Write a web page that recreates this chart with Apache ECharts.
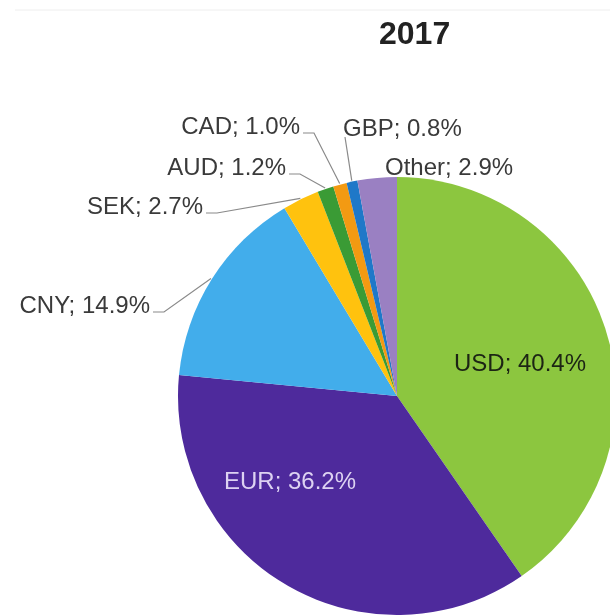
<!DOCTYPE html>
<html>
<head>
<meta charset="utf-8">
<style>
  html, body { margin: 0; padding: 0; background: #fff; }
  #chart { width: 610px; height: 615px; }
</style>
<script src="https://cdn.jsdelivr.net/npm/echarts@6/dist/echarts.min.js"></script>
</head>
<body>
<div id="chart"></div>
<script>
// currency share, 2017
var currencies = ['USD', 'EUR', 'CNY', 'SEK', 'AUD', 'CAD', 'GBP', 'Other'];
var shares = [40.4, 36.2, 14.9, 2.7, 1.2, 1.0, 0.8, 2.9];
var colors = ['#8cc63f', '#4e2a9c', '#42adeb', '#ffc20e', '#3a9b35', '#f39a12', '#1f78c8', '#9a80c2'];

// where each label sits (x, y, align); leader for the outside ones
var labelSpots = [
  [520, 364, 'center'],
  [290, 482, 'center'],
  [150, 306, 'right'],
  [203, 207, 'right'],
  [286, 168, 'right'],
  [300, 127, 'right'],
  [343, 129, 'left'],
  [385, 168, 'left']
];
var hasLeader = [false, false, true, true, true, true, true, false];

var cx = 397, cy = 396, R = 219;
var total = shares.reduce(function (a, b) { return a + b; }, 0);

// point on the rim at the middle of slice i
function rimPoint(i) {
  var before = 0;
  for (var k = 0; k < i; k++) before += shares[k];
  var ang = (before + shares[i] / 2) / total * Math.PI * 2;
  return [cx + (R + 1) * Math.sin(ang), cy - (R + 1) * Math.cos(ang)];
}

var chart = echarts.init(document.getElementById('chart'));

var option = {
  animation: false,
  title: {
    text: '2017',
    left: 374,
    top: 14,
    textStyle: {
      fontFamily: 'Liberation Sans',
      fontSize: 32,
      fontWeight: 'bold',
      color: '#222'
    }
  },
  graphic: [{
    type: 'line',
    shape: { x1: 15, y1: 10, x2: 610, y2: 10 },
    style: { stroke: '#eeeeee', lineWidth: 1 },
    silent: true
  }],
  series: [{
    type: 'pie',
    center: [cx, cy],
    radius: R,
    startAngle: 90,
    clockwise: true,
    avoidLabelOverlap: false,
    itemStyle: { borderWidth: 0 },
    label: {
      show: true,
      position: 'outside',
      fontFamily: 'Liberation Sans',
      fontSize: 24,
      color: '#3a3a3a',
      formatter: function (p) { return p.name + '; ' + p.value.toFixed(1) + '%'; }
    },
    labelLine: {
      show: true,
      lineStyle: { color: '#8a8a8a', width: 1.2 }
    },
    labelLayout: function (p) {
      var i = p.dataIndex;
      var s = labelSpots[i];
      var out = { x: s[0], y: s[1], align: s[2], verticalAlign: 'middle' };
      if (hasLeader[i]) {
        var rim = rimPoint(i);
        if (s[2] === 'right') {
          var end = [s[0] + 3, s[1] + 6];
          var elbow = [s[0] + 14, s[1] + 6];
          out.labelLinePoints = [rim, elbow, end];
        } else {
          var e = [s[0] + 2, s[1] + 8];
          out.labelLinePoints = [rim, e, e];
        }
      }
      return out;
    },
    data: currencies.map(function (name, i) {
      var item = { name: name, value: shares[i], itemStyle: { color: colors[i] } };
      if (i === 0) {
        item.label = { position: 'inside', color: '#1c2414' };
        item.labelLine = { show: false };
      } else if (i === 1) {
        item.label = { position: 'inside', color: '#ddd2f2' };
        item.labelLine = { show: false };
      } else if (i === 7) {
        item.labelLine = { show: false };
      }
      return item;
    })
  }]
};

chart.setOption(option);
</script>
</body>
</html>
